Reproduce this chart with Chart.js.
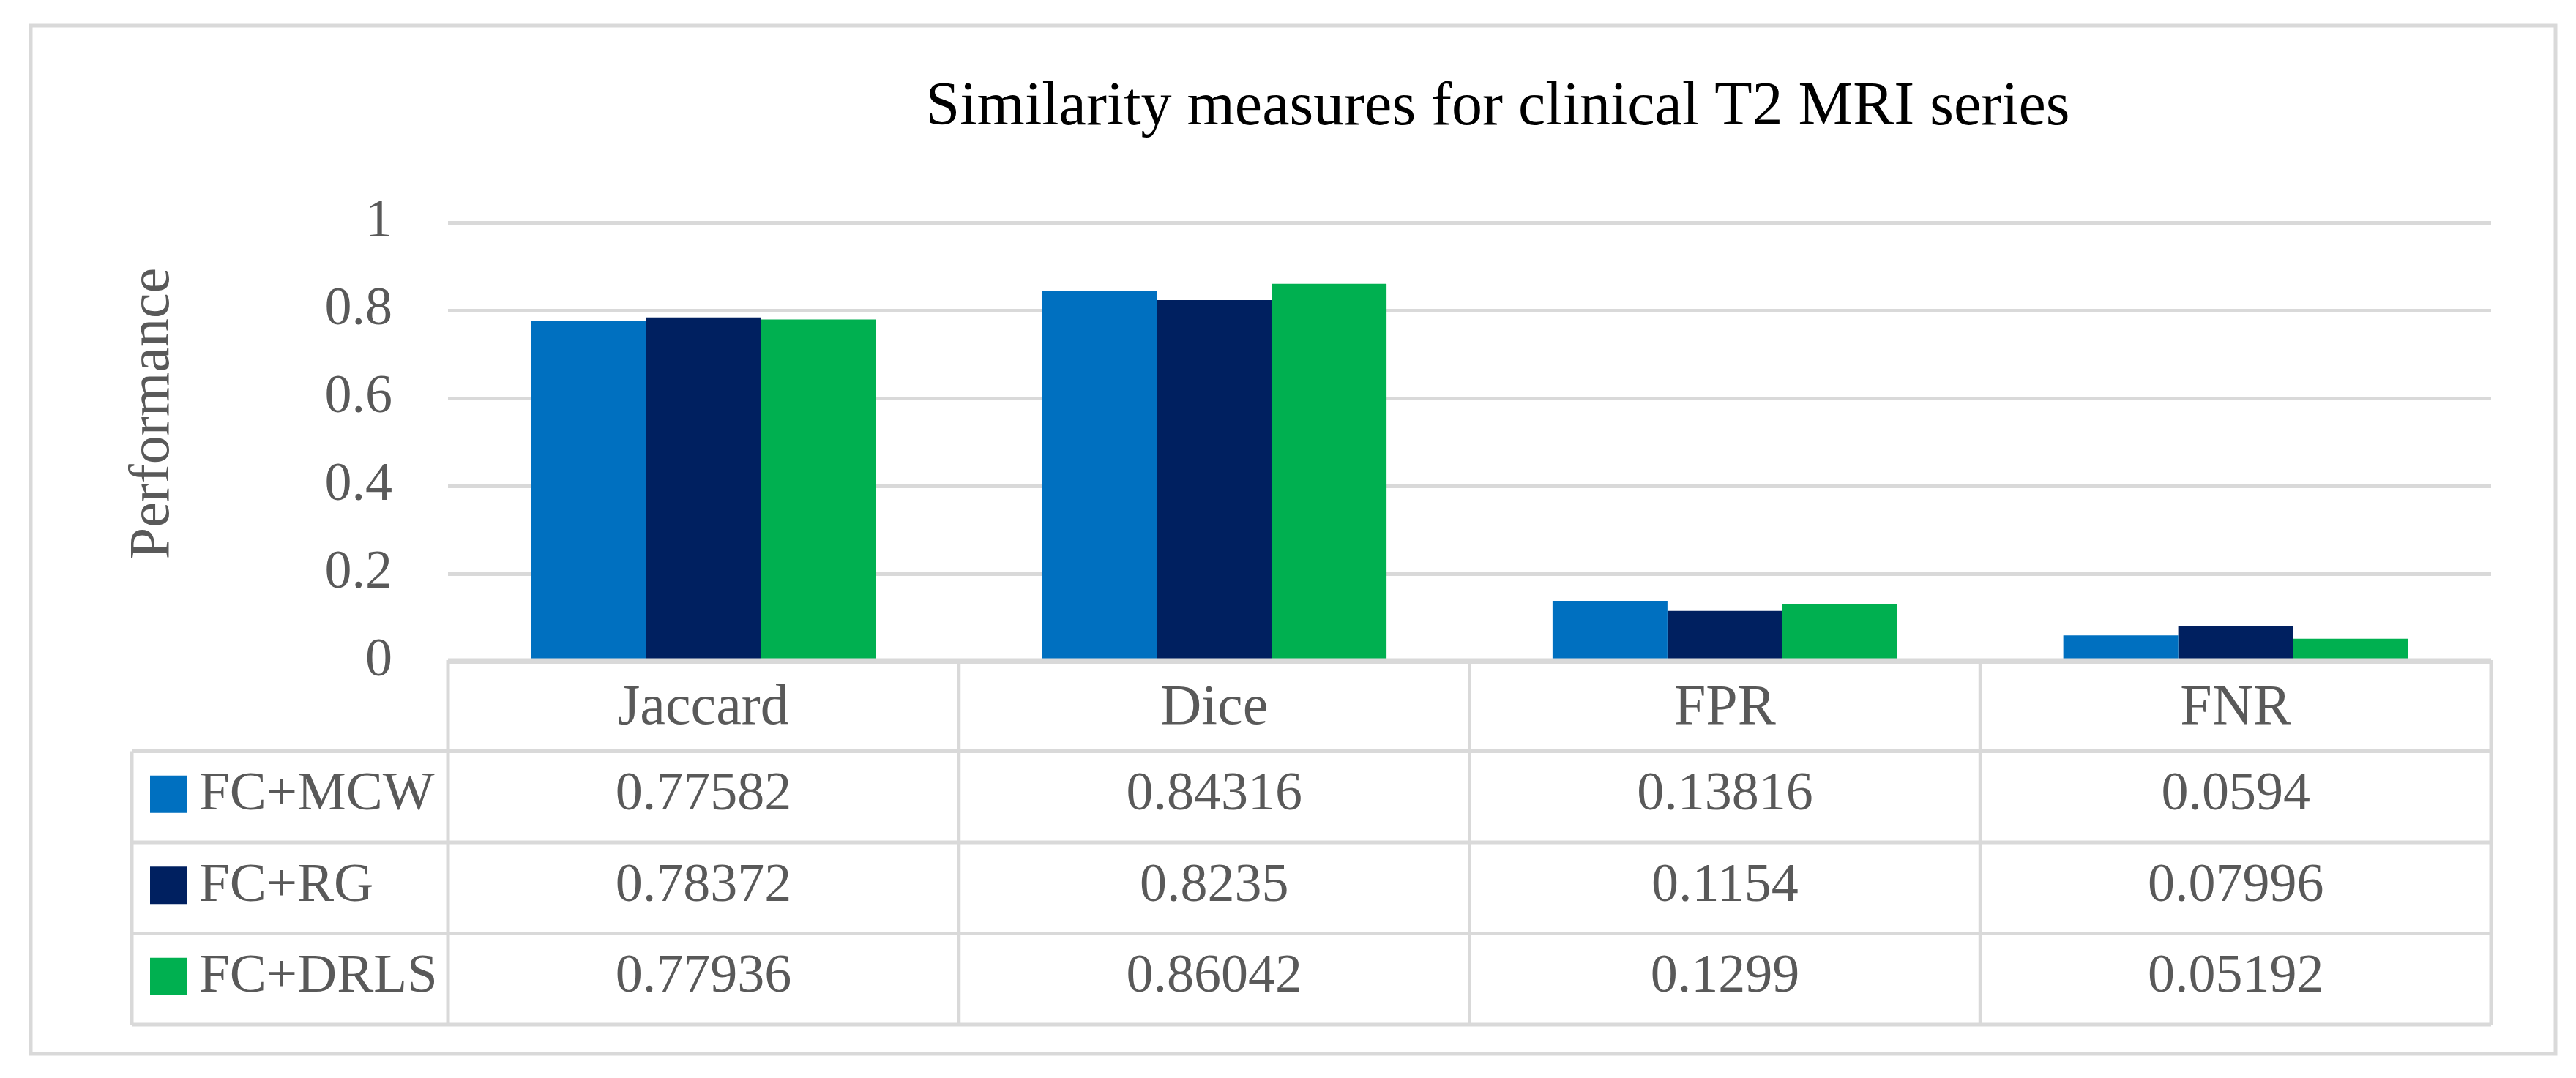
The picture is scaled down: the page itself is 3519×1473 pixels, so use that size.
<!DOCTYPE html>
<html>
    <head>
        <meta charset="utf-8">
        <title>Similarity measures for clinical T2 MRI series</title>
        <script src="https://cdn.jsdelivr.net/npm/chart.js@4.4.0/dist/chart.umd.min.js"></script>
        <style>
            html, body { margin: 0; padding: 0; background: #fff; }
            #wrap { width: 3519px; height: 1473px; position: relative; }
        </style>
    </head>
    <body>
        <div id="wrap">
            <canvas id="chart"></canvas>
        </div>

        <script>
            const categories = ['Jaccard', 'Dice', 'FPR', 'FNR'];
            const fcMcw = [0.77582, 0.84316, 0.13816, 0.0594];
            const fcRg = [0.78372, 0.8235, 0.1154, 0.07996];
            const fcDrls = [0.77936, 0.86042, 0.1299, 0.05192];
            const seriesNames = ['FC+MCW', 'FC+RG', 'FC+DRLS'];
            const seriesColors = ['#0070C0', '#002060', '#00B050'];
            const yTickLabels = ['0', '0.2', '0.4', '0.6', '0.8', '1'];

            const chartTitle = 'Similarity measures for clinical T2 MRI series';
            const yTitle = 'Performance';

            const FONT = '"Liberation Serif", "Times New Roman", serif';
            const GRID = '#d9d9d9';
            const TEXT = '#595959';

            // draws frame, titles and the data table under the x axis
            const tablePlugin = {
                id: 'dataTable',
                afterDraw(chart) {
                    const ctx = chart.ctx;
                    const area = chart.chartArea;
                    const x = chart.scales.x;
                    const n = categories.length;
                    const colW = (area.right - area.left) / n;
                    const rowH = 124.5;
                    const top = area.bottom - 2;
                    const legendLeft = 180;
                    const rows = chart.data.datasets.length;
                    const bottom = top + rowH * (rows + 1);

                    ctx.save();

                    // outer frame
                    ctx.strokeStyle = GRID;
                    ctx.lineWidth = 5;
                    ctx.strokeRect(42, 35, 3449, 1405);

                    // title
                    ctx.fillStyle = '#000';
                    ctx.font = '84px ' + FONT;
                    ctx.textAlign = 'center';
                    ctx.textBaseline = 'alphabetic';
                    ctx.fillText(chartTitle, 2046, 170);

                    // y axis title
                    ctx.save();
                    ctx.translate(230, 565);
                    ctx.rotate(-Math.PI / 2);
                    ctx.fillStyle = TEXT;
                    ctx.font = '78px ' + FONT;
                    ctx.fillText(yTitle, 0, 0);
                    ctx.restore();

                    // table lines
                    ctx.strokeStyle = GRID;
                    ctx.lineWidth = 5;
                    ctx.beginPath();
                    ctx.moveTo(area.left, top);
                    ctx.lineTo(area.right, top);
                    for (let r = 1; r <= rows + 1; r++) {
                        const y = top + rowH * r;
                        ctx.moveTo(legendLeft, y);
                        ctx.lineTo(area.right, y);
                    }
                    for (let i = 0; i <= n; i++) {
                        const cx = area.left + colW * i;
                        ctx.moveTo(cx, top);
                        ctx.lineTo(cx, bottom);
                    }
                    ctx.moveTo(legendLeft, top + rowH);
                    ctx.lineTo(legendLeft, bottom);
                    ctx.stroke();

                    // rows: legend key + values
                    ctx.textBaseline = 'middle';
                    chart.data.datasets.forEach((ds, r) => {
                        const cy = top + rowH * (r + 1) + rowH / 2 - 2;
                        ctx.fillStyle = ds.backgroundColor;
                        ctx.fillRect(205, cy - 27, 51, 51);
                        ctx.fillStyle = TEXT;
                        ctx.font = '75px ' + FONT;
                        ctx.textAlign = 'left';
                        ctx.fillText(ds.label, 272, cy);
                        ctx.textAlign = 'center';
                        ctx.font = '74px ' + FONT;
                        ds.data.forEach((v, i) => {
                            ctx.fillText(String(v), x.getPixelForValue(i), cy);
                        });
                    });

                    ctx.restore();
                }
            };

            const ctx = document.getElementById('chart').getContext('2d');
            const myChart = new Chart(ctx, {
                type: 'bar',
                data: {
                    labels: categories,
                    datasets: [fcMcw, fcRg, fcDrls].map((vals, i) => ({
                        label: seriesNames[i],
                        data: vals,
                        backgroundColor: seriesColors[i],
                        borderWidth: 0,
                        barPercentage: 1,
                        categoryPercentage: 0.675
                    }))
                },
                options: {
                    responsive: true,
                    maintainAspectRatio: false,
                    devicePixelRatio: 1,
                    animation: false,
                    layout: {
                        padding: { left: 0, right: 116, top: 304, bottom: 0 }
                    },
                    plugins: {
                        legend: { display: false },
                        title: { display: false },
                        tooltip: { enabled: false }
                    },
                    scales: {
                        x: {
                            grid: { display: false },
                            border: { display: false },
                            ticks: {
                                color: TEXT,
                                font: { family: FONT, size: 78 },
                                padding: 10,
                                maxRotation: 0
                            },
                            afterFit(scale) { scale.height = 569; }
                        },
                        y: {
                            min: 0,
                            max: 1,
                            border: { display: false },
                            grid: {
                                color: GRID,
                                lineWidth: 5,
                                drawTicks: false
                            },
                            ticks: {
                                stepSize: 0.2,
                                color: TEXT,
                                font: { family: FONT, size: 74 },
                                padding: 76,
                                callback: (value, index) => yTickLabels[index]
                            },
                            afterFit(scale) { scale.width = 612; }
                        }
                    }
                },
                plugins: [tablePlugin]
            });
        </script>
    </body>
</html>
